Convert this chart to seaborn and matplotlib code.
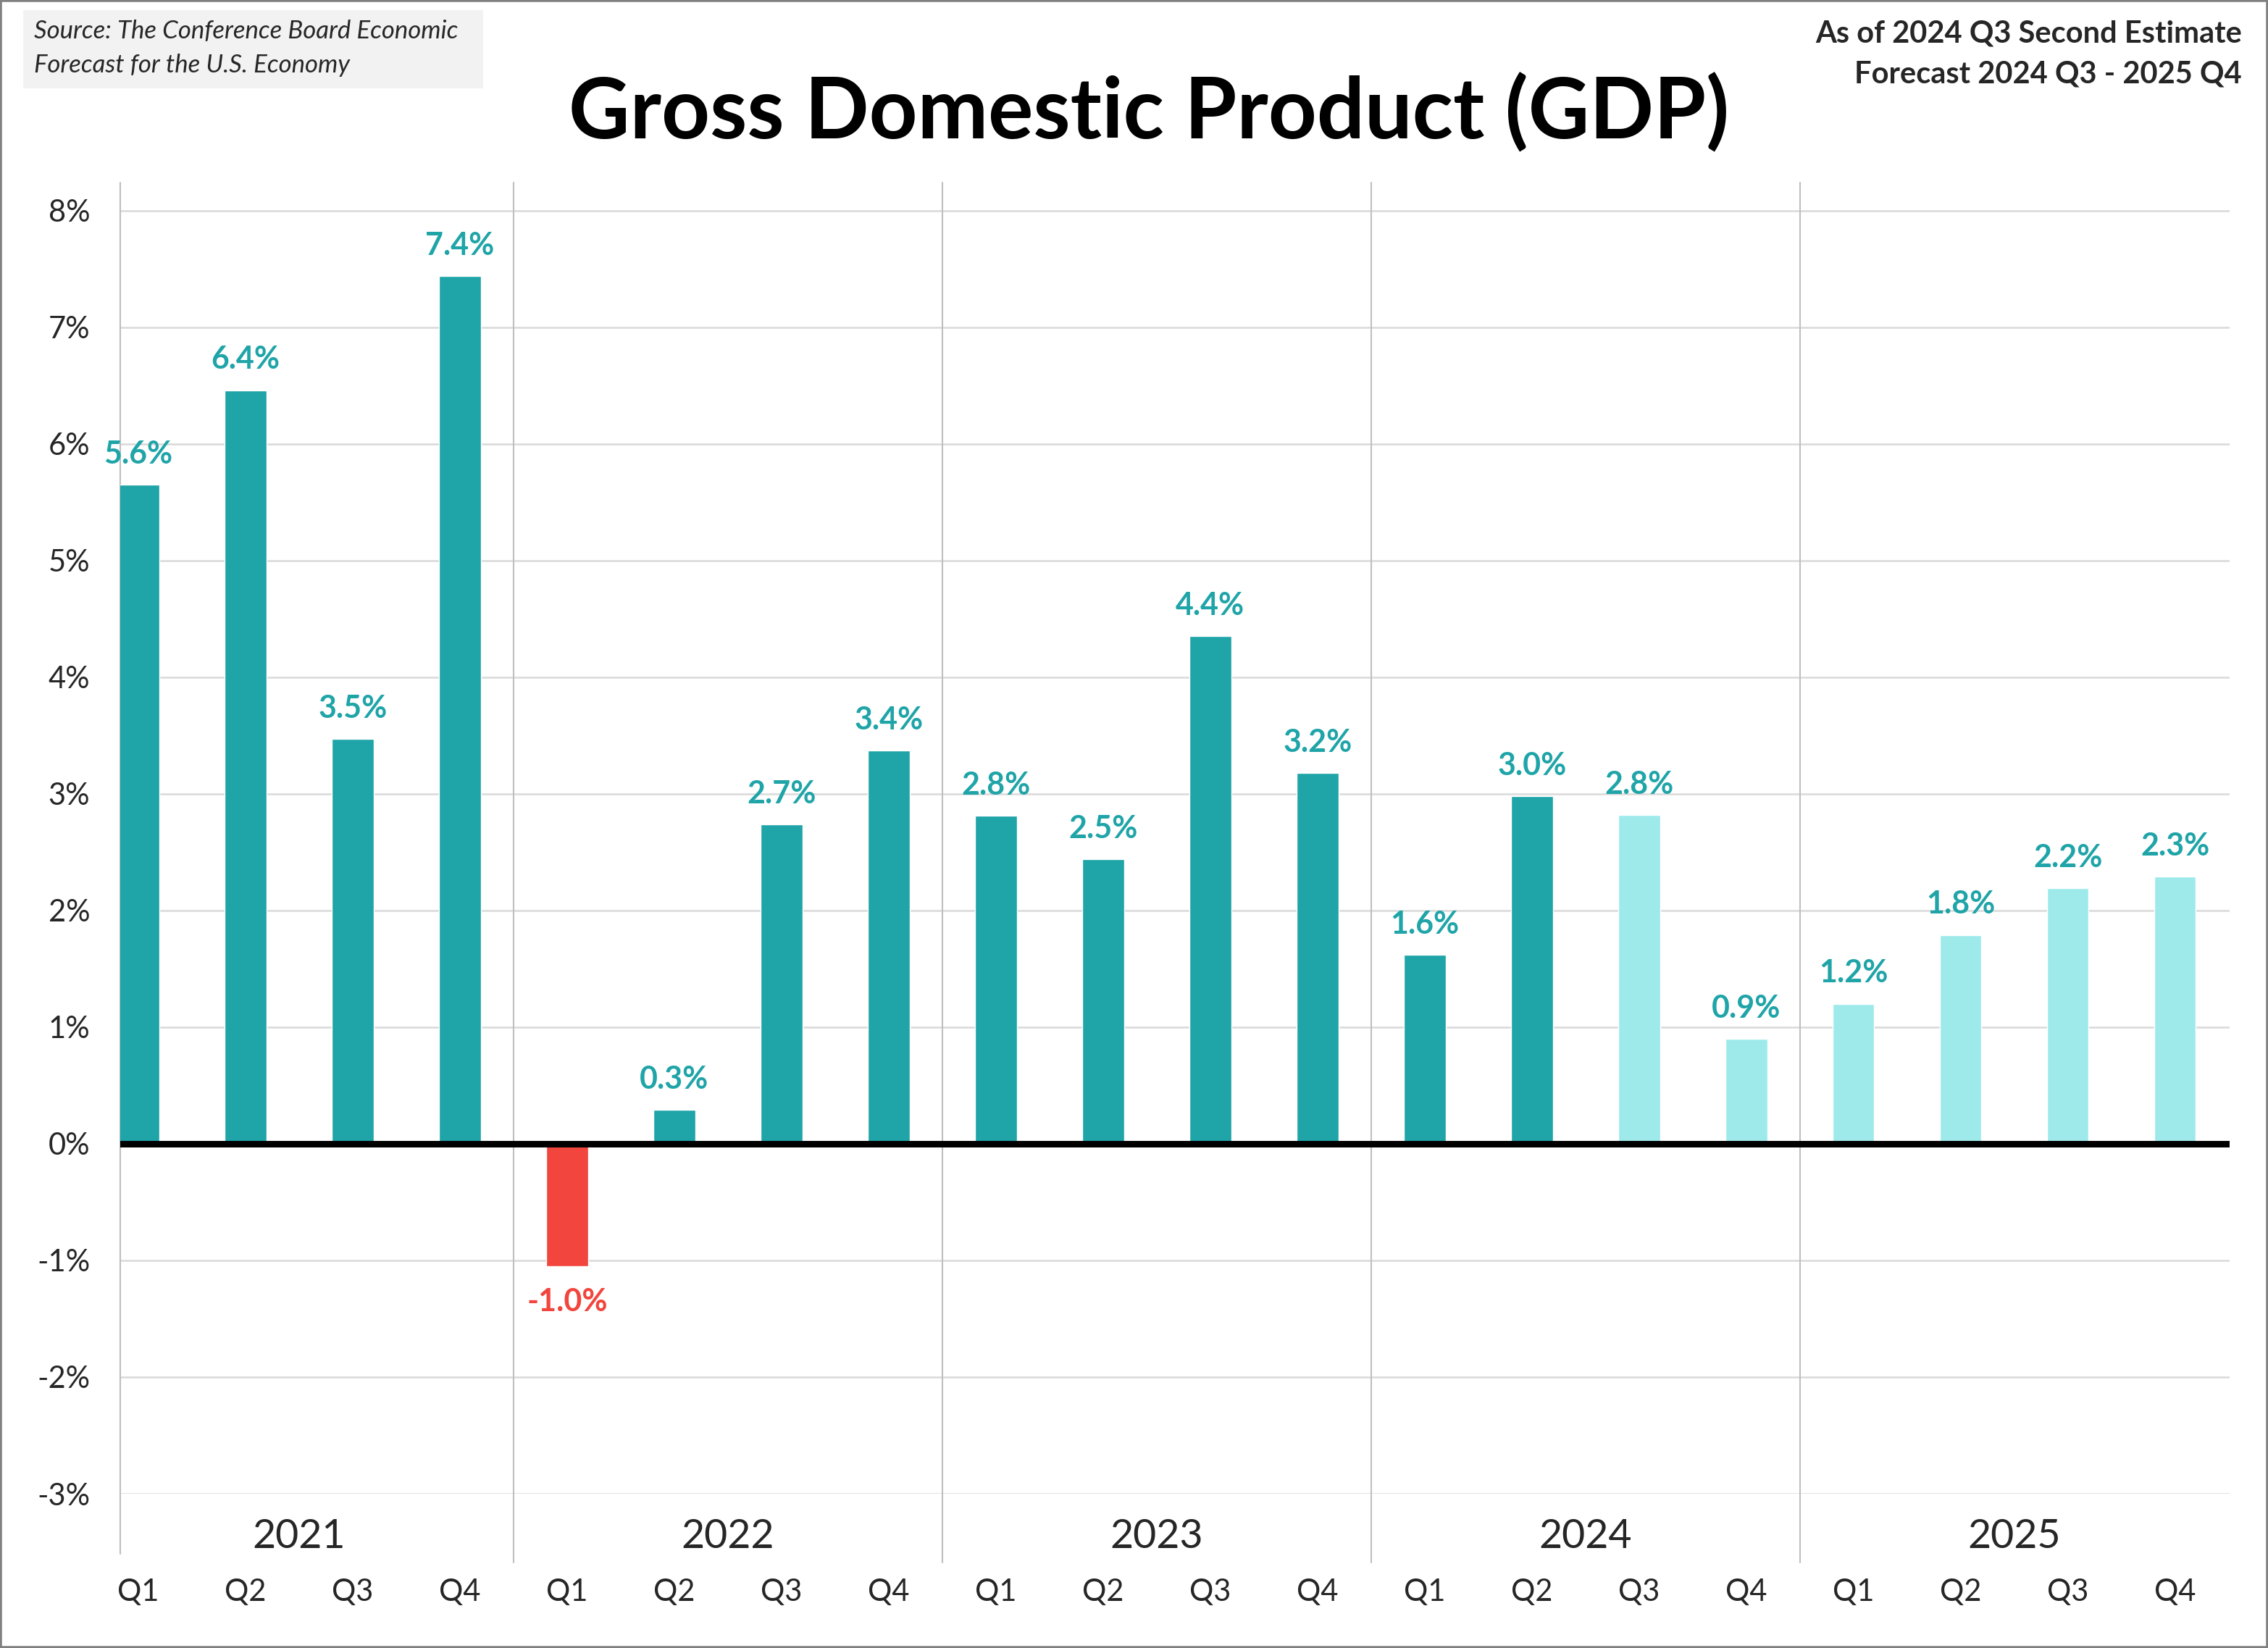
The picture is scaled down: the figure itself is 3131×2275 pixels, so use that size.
import pandas as pd
import seaborn as sns
import matplotlib.pyplot as plt
import matplotlib.transforms as mtransforms
from matplotlib.patches import Rectangle

years = ['2021', '2022', '2023', '2024', '2025']
quarters = ['Q1', 'Q2', 'Q3', 'Q4']
growth = [5.65, 6.46, 3.47, 7.44,
          -1.05, 0.29, 2.74, 3.37,
          2.81, 2.44, 4.35, 3.18,
          1.62, 2.98, 2.82, 0.90,
          1.20, 1.79, 2.19, 2.29]
labels = ['5.6%', '6.4%', '3.5%', '7.4%',
          '-1.0%', '0.3%', '2.7%', '3.4%',
          '2.8%', '2.5%', '4.4%', '3.2%',
          '1.6%', '3.0%', '2.8%', '0.9%',
          '1.2%', '1.8%', '2.2%', '2.3%']
n_actual = 14  # 2024 Q3 onwards is forecast

TEAL = '#1fa4a8'
LIGHT = '#9eeaeb'
RED = '#f1453d'

status = []
for i, v in enumerate(growth):
    if i >= n_actual:
        status.append('forecast')
    elif v < 0:
        status.append('negative')
    else:
        status.append('actual')

df = pd.DataFrame({
    'period': [f'{y} {q}' for y in years for q in quarters],
    'growth': growth,
    'label': labels,
    'status': status,
})

sns.set_style('white')
plt.rcParams['font.family'] = ['Lato', 'DejaVu Sans']

fig = plt.figure(figsize=(31.31, 22.75), dpi=100)
ax = fig.add_axes([166 / 3131, 1 - 2062 / 2275, (3078 - 166) / 3131, (2062 - 252) / 2275])

palette = {'actual': TEAL, 'negative': RED, 'forecast': LIGHT}
sns.barplot(data=df, x='period', y='growth', hue='status', palette=palette,
            dodge=False, width=0.39, saturation=1, legend=False, ax=ax, zorder=2)

ax.set_xlim(-0.17, 19.51)
ax.set_ylim(-3, 8.24)
ax.set_yticks(range(-3, 9))
ax.set_yticklabels([f'{v}%' for v in range(-3, 9)])
ax.set_xticks(range(len(df)))
ax.set_xticklabels(quarters * len(years))
ax.tick_params(axis='y', length=0, pad=30, labelsize=30)
ax.tick_params(axis='x', length=0, pad=84, labelsize=30)
ax.set_xlabel('')
ax.set_ylabel('')
for s in ax.spines.values():
    s.set_visible(False)
ax.yaxis.grid(True, color='#d9d9d9', lw=1.8)
ax.xaxis.grid(False)
ax.set_axisbelow(True)

ax.axhline(0, color='black', lw=6.5, zorder=3)

# year separators and the left edge line, running down into the label area
ax.axvline(-0.17, ymin=-0.046, ymax=1, color='#bfbfbf', lw=1.5, clip_on=False, zorder=1)
for k in range(1, len(years)):
    ax.axvline(4 * k - 0.5, ymin=-0.0525, ymax=1, color='#bfbfbf', lw=1.5,
               clip_on=False, zorder=1)

trans = mtransforms.blended_transform_factory(ax.transData, ax.transAxes)
for k, y in enumerate(years):
    ax.text(4 * k + 1.5, -0.033, y, transform=trans, ha='center', va='center', fontsize=40)

for i, row in df.iterrows():
    if row['growth'] >= 0:
        ax.annotate(row['label'], xy=(i, row['growth']), xytext=(0, 21),
                    textcoords='offset points', ha='center', va='baseline',
                    fontsize=31, fontweight='bold', color=TEAL)
    else:
        ax.annotate(row['label'], xy=(i, row['growth']), xytext=(0, -21),
                    textcoords='offset points', ha='center', va='top',
                    fontsize=31, fontweight='bold', color=RED)

# header texts
fig.text(1586 / 3131, 1 - 156 / 2275, 'Gross Domestic Product (GDP)', ha='center',
         va='center', fontsize=84, fontweight='bold', color='black')
fig.add_artist(Rectangle((32 / 3131, 1 - 122 / 2275), (667 - 32) / 3131, (122 - 14) / 2275,
                         transform=fig.transFigure, facecolor='#f2f2f2', edgecolor='none'))
fig.text(47 / 3131, 1 - 43 / 2275, 'Source: The Conference Board Economic', ha='left',
         va='center', fontsize=25, style='italic')
fig.text(47 / 3131, 1 - 90 / 2275, 'Forecast for the U.S. Economy', ha='left',
         va='center', fontsize=25, style='italic')
fig.text(3095 / 3131, 1 - 47 / 2275, 'As of 2024 Q3 Second Estimate', ha='right',
         va='center', fontsize=30, fontweight='bold')
fig.text(3095 / 3131, 1 - 103 / 2275, 'Forecast 2024 Q3 - 2025 Q4', ha='right',
         va='center', fontsize=30, fontweight='bold')

fig.add_artist(Rectangle((0, 0), 1, 1, transform=fig.transFigure, facecolor='none',
                         edgecolor='#808080', lw=4))

fig.savefig('out.png', dpi=100)
